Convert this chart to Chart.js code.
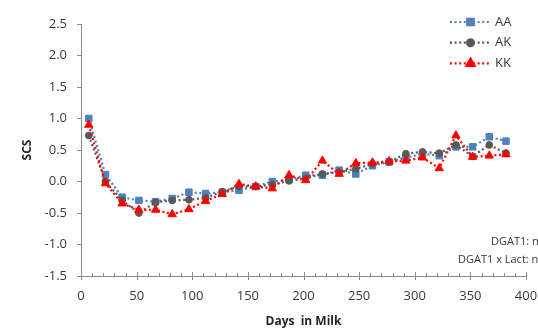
<!DOCTYPE html>
<html>
<head>
<meta charset="utf-8">
<script src="https://cdn.jsdelivr.net/npm/chart.js@4/dist/chart.umd.min.js"></script>
<style>
  html, body { margin: 0; padding: 0; background: #fff; }
  #wrap { width: 538px; height: 331px; position: relative; }
</style>
</head>
<body>
<div id="wrap"><canvas id="scs"></canvas></div>
<script>
// test days (DIM) and mean SCS per DGAT1 genotype
const days = [7, 22, 37, 52, 67, 82, 97, 112, 127, 142, 157, 172, 187, 202, 217, 232, 247, 262, 277, 292, 307, 322, 337, 352, 367, 382]
const aa = [1.00, 0.11, -0.25, -0.30, -0.32, -0.27, -0.17, -0.19, -0.17, -0.14, -0.08, 0.00, 0.03, 0.10, 0.10, 0.18, 0.12, 0.25, 0.31, 0.38, 0.44, 0.41, 0.55, 0.55, 0.71, 0.64]
const ak = [0.73, 0.00, -0.30, -0.50, -0.33, -0.30, -0.29, -0.26, -0.16, -0.08, -0.08, -0.05, 0.01, 0.05, 0.12, 0.15, 0.20, 0.28, 0.31, 0.44, 0.47, 0.45, 0.58, 0.40, 0.58, 0.45]
const kk = [0.90, -0.03, -0.35, -0.45, -0.45, -0.52, -0.44, -0.31, -0.20, -0.04, -0.08, -0.11, 0.10, 0.02, 0.33, 0.12, 0.29, 0.30, 0.32, 0.33, 0.38, 0.21, 0.73, 0.39, 0.41, 0.43]
const yTicks = [-1.5, -1.0, -0.5, 0.0, 0.5, 1.0, 1.5, 2.0, 2.5]
const notes = ['DGAT1: ns', 'DGAT1 x Lact: ns']

const FONT = '"Open Sans", sans-serif'
const AXIS = '#8c8c8c'
const TEXT = '#383838'

const series = [
  { label: 'AA', values: aa, color: '#4f81bd', style: 'rect', radius: 4.6, order: 2 },
  { label: 'AK', values: ak, color: '#595959', style: 'circle', radius: 3.4, order: 1 },
  { label: 'KK', values: kk, color: '#ff0000', style: 'triangle', radius: 4.8, order: 0 }
]

const dash = [2, 2.6]

// x axis: major ticks cross the axis, minor ticks sit inside
const xTickMarks = {
  id: 'xTickMarks',
  afterDraw(chart) {
    const { ctx, scales: { x } } = chart
    const y0 = chart.chartArea.bottom
    ctx.save()
    ctx.strokeStyle = AXIS
    ctx.lineWidth = 1
    for (let v = 0; v <= 400; v += 10) {
      const px = Math.round(x.getPixelForValue(v)) + 0.5
      ctx.beginPath()
      if (v % 50 === 0) {
        ctx.moveTo(px, y0 - 4)
        ctx.lineTo(px, y0 + 4)
      } else {
        ctx.moveTo(px, y0 - 3)
        ctx.lineTo(px, y0)
      }
      ctx.stroke()
    }
    ctx.restore()
  }
}

// legend with a dotted line through the marker, plus the test notes
const sideText = {
  id: 'sideText',
  afterDraw(chart) {
    const { ctx } = chart
    ctx.save()
    series.forEach((s, i) => {
      const cy = 22 + i * 20.7
      ctx.strokeStyle = s.color
      ctx.lineWidth = 2.2
      ctx.setLineDash(dash)
      ctx.beginPath()
      ctx.moveTo(450, cy)
      ctx.lineTo(491, cy)
      ctx.stroke()
      ctx.setLineDash([])
      ctx.fillStyle = s.color
      Chart.helpers.drawPoint(ctx, { pointStyle: s.style, radius: s.radius, borderWidth: 1 }, 470.5, cy)
      ctx.fill()
      ctx.fillStyle = TEXT
      ctx.font = '13px ' + FONT
      ctx.textBaseline = 'middle'
      ctx.fillText(s.label, 495, cy)
    })
    ctx.font = '11px ' + FONT
    ctx.fillStyle = TEXT
    ctx.textBaseline = 'middle'
    ctx.fillText(notes[0], 491, 242)
    ctx.fillText(notes[1], 458, 259.5)
    ctx.restore()
  }
}

new Chart(document.getElementById('scs'), {
  type: 'line',
  data: {
    datasets: series.map(s => ({
      label: s.label,
      data: days.map((d, i) => ({ x: d, y: s.values[i] })),
      borderColor: s.color,
      backgroundColor: s.color,
      borderWidth: 2.2,
      borderDash: dash,
      pointStyle: s.style,
      pointRadius: s.radius,
      pointBorderWidth: 1,
      pointHoverRadius: s.radius,
      order: s.order,
      tension: 0
    }))
  },
  options: {
    responsive: true,
    maintainAspectRatio: false,
    animation: false,
    layout: { padding: { left: 20, top: 24, right: 12, bottom: 0 } },
    plugins: {
      legend: { display: false },
      tooltip: { enabled: false }
    },
    scales: {
      x: {
        type: 'linear',
        min: 0,
        max: 400,
        grid: { display: false, drawTicks: false },
        border: { display: true, color: AXIS, width: 1 },
        ticks: {
          stepSize: 50,
          padding: 12,
          color: TEXT,
          font: { family: FONT, size: 13 },
          maxRotation: 0
        },
        title: {
          display: true,
          text: 'Days  in Milk',
          color: '#262626',
          font: { family: FONT, size: 12, weight: 'bold' },
          padding: { top: 0, bottom: 2 }
        },
        afterFit: scale => {
          scale.height = 55
          scale.paddingLeft = 0
          scale.paddingRight = 0
        }
      },
      y: {
        min: -1.5,
        max: 2.5,
        afterBuildTicks: scale => { scale.ticks = yTicks.map(v => ({ value: v })) },
        grid: { display: true, drawOnChartArea: false, drawTicks: true, tickLength: 4, color: AXIS },
        border: { display: true, color: AXIS, width: 1 },
        ticks: {
          padding: 10,
          color: TEXT,
          font: { family: FONT, size: 13 },
          callback: v => v.toFixed(1)
        },
        title: {
          display: true,
          text: 'SCS',
          color: '#262626',
          font: { family: FONT, size: 12, weight: 'bold' },
          padding: 0
        },
        afterFit: scale => { scale.width = 61 }
      }
    }
  },
  plugins: [xTickMarks, sideText]
})
</script>
</body>
</html>
